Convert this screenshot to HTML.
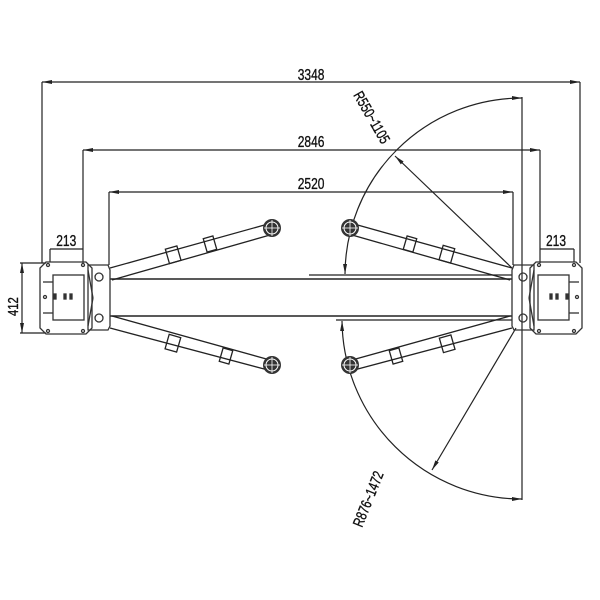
<!DOCTYPE html>
<html><head><meta charset="utf-8"><style>
html,body{margin:0;padding:0;background:#fff}
svg{display:block}
text{font-family:"Liberation Sans",sans-serif;fill:#111;stroke:#111;stroke-width:0.35;}
</style></head><body>
<svg width="600" height="600" viewBox="0 0 600 600" xmlns="http://www.w3.org/2000/svg">
<defs>
<marker id="a" viewBox="0 0 10 6" refX="10" refY="3" markerWidth="10" markerHeight="6" orient="auto-start-reverse" markerUnits="userSpaceOnUse"><path d="M0,1 L10,3 L0,5 z" fill="#222"/></marker>
<g id="pad"><circle r="9" fill="#333"/><circle r="6" fill="none" stroke="#fff" stroke-width="1"/><line x1="-8" y1="0" x2="8" y2="0" stroke="#fff" stroke-width="0.8"/><line x1="0" y1="-8" x2="0" y2="8" stroke="#fff" stroke-width="0.8"/></g>
<g id="col" fill="none" stroke="#333" stroke-width="1.3">
<path d="M46,262 L86,262 L92,268 L92,328 L86,334 L46,334 L40,328 L40,268 Z"/>
<rect x="53" y="275" width="31" height="45"/>
<line x1="43" y1="282" x2="53" y2="282"/><line x1="43" y1="313" x2="53" y2="313"/>
<path d="M88,265 L108,265 L110,270 L110,326 L108,330 L88,330 Z"/>
<circle cx="99" cy="277" r="4"/><circle cx="99" cy="318" r="4"/>
<line x1="88" y1="270" x2="93" y2="298"/><line x1="93" y1="298" x2="88" y2="326"/>
<circle cx="48" cy="265" r="1.5"/><circle cx="83" cy="265" r="1.5"/><circle cx="48" cy="331" r="1.5"/><circle cx="83" cy="331" r="1.5"/>
<circle cx="45" cy="297" r="1.5"/>
<rect x="54" y="294" width="2" height="5" fill="#333"/><rect x="64" y="294" width="2" height="5" fill="#333"/><rect x="70" y="294" width="2" height="5" fill="#333"/>
</g>
</defs>
<g stroke="#222" stroke-width="1.2" fill="none">
<line x1="42" y1="82" x2="580" y2="82" marker-start="url(#a)" marker-end="url(#a)"/>
<line x1="42" y1="82" x2="42" y2="263"/><line x1="580" y1="82" x2="580" y2="263"/>
<line x1="83" y1="150" x2="540" y2="150" marker-start="url(#a)" marker-end="url(#a)"/>
<line x1="83" y1="150" x2="83" y2="263"/><line x1="540" y1="150" x2="540" y2="263"/>
<line x1="109" y1="192" x2="513" y2="192" marker-start="url(#a)" marker-end="url(#a)"/>
<line x1="109" y1="192" x2="109" y2="265"/><line x1="513" y1="192" x2="513" y2="265"/>
<line x1="522" y1="97" x2="522" y2="500"/>
<path d="M345,274 A177,177 0 0 1 522,98" marker-start="url(#a)" marker-end="url(#a)"/>
<path d="M342,321 A180,180 0 0 0 522,499" marker-start="url(#a)" marker-end="url(#a)"/>
<line x1="512" y1="268" x2="395" y2="156" marker-end="url(#a)"/>
<line x1="516" y1="328" x2="432" y2="470" marker-end="url(#a)"/>
<line x1="22" y1="263" x2="22" y2="333" marker-start="url(#a)" marker-end="url(#a)"/>
<line x1="20" y1="263" x2="46" y2="263"/><line x1="20" y1="333" x2="46" y2="333"/>
<line x1="50" y1="249" x2="83" y2="249"/><line x1="50" y1="249" x2="50" y2="262"/>
<line x1="540" y1="249" x2="574" y2="249"/><line x1="574" y1="249" x2="574" y2="262"/>
<line x1="110" y1="279" x2="512" y2="279" stroke-width="1.6"/>
<line x1="110" y1="316" x2="512" y2="316" stroke-width="1.6"/>
<line x1="309" y1="275" x2="512" y2="275"/>
<line x1="336" y1="320" x2="512" y2="320"/>
<g stroke-width="1.3">
<path d="M110,268 L268,224 M112,280 L270,235"/>
<path d="M110,328 L268,370 M112,316 L270,360"/>
<path d="M512,268 L354,224 M510,280 L352,235"/>
<path d="M512,328 L354,370 M510,316 L352,360"/>
<rect x="-7" y="-7" width="12" height="15" transform="translate(174,254) rotate(-16)"/>
<rect x="-5" y="-7" width="10" height="14" transform="translate(210,244) rotate(-16)"/>
<rect x="-7" y="-7" width="12" height="15" transform="translate(174,343) rotate(16)"/>
<rect x="-5" y="-7" width="10" height="14" transform="translate(226,356) rotate(16)"/>
<rect x="-7" y="-7" width="12" height="15" transform="translate(448,254) rotate(16)"/>
<rect x="-5" y="-7" width="10" height="14" transform="translate(410,244) rotate(16)"/>
<rect x="-7" y="-7" width="12" height="15" transform="translate(448,343) rotate(-16)"/>
<rect x="-5" y="-7" width="10" height="14" transform="translate(396,356) rotate(-16)"/>
</g>
</g>
<use href="#pad" x="272" y="228"/><use href="#pad" x="272" y="365"/>
<use href="#pad" x="350" y="228"/><use href="#pad" x="350" y="365"/>
<use href="#col"/>
<use href="#col" transform="translate(622,0) scale(-1,1)"/>
<g font-size="16" transform="scale(0.75,1)">
<text x="397" y="80">3348</text>
<text x="397" y="147">2846</text>
<text x="397" y="189">2520</text>
<text x="75" y="246">213</text>
<text x="728" y="246">213</text>
</g>
<text font-size="15" transform="translate(18,316) rotate(-90) scale(0.75,1)">412</text>
<text font-size="15" transform="translate(353,95) rotate(60) scale(0.75,1)">R550~1105</text>
<text font-size="15" transform="translate(362,528) rotate(-68) scale(0.75,1)">R876~1472</text>
</svg>
</body></html>
